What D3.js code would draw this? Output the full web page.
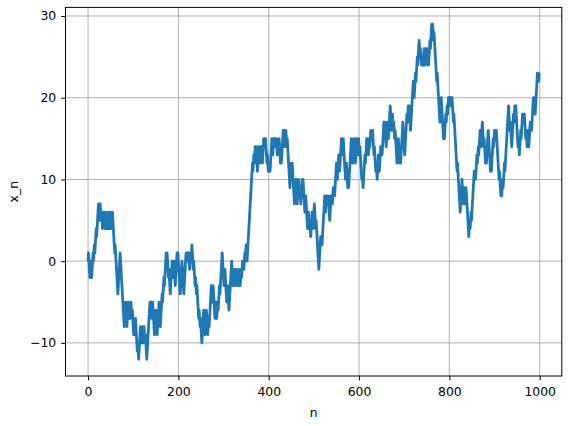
<!DOCTYPE html>
<html lang="en">

<head>
	<meta charset="utf-8">
	<script src="https://d3js.org/d3.v7.min.js"></script>
	<style type="text/css">
		body {
			margin: 0;
			background: #fff;
		}

		text {
			font-family: "DejaVu Sans", sans-serif;
		}
	</style>
</head>

<body>
	<svg id="chart" width="571" height="426"></svg>
	<script type="text/javascript">
		// random walk, one char per step: u = +1, d = -1 (spaces are ignored)
		var startValue = 0;
		var steps = [
			// n 0 - 80
			"u ddd uu dd uuu d uu d uuu d uuuu dd uu dd u dd uu d u dd uu dd u d uu dd uu dd uu ddd dd u dddddd uuuuu d dddddddd",
			// n 80 - 175
			"uuu ddd uuu dd u d uud dud ddud uud dddudd uuuu dd uu dd uu dduddd uuuuuuu dudd uu dddd uuu ddd uuuu ddd uuuu d uuu d uuu udu",
			// n 175 - 364
			"ddduddd uuuu dd uu ddd uuuu dudd ddd uuuu dddd uuuu ud udu dud du uduu ddd u dd du dd u dddd u dd u ddd uuuu ddd uuu ddd uu d uuuuu dd uu dddd uu dd uu d uuu d uuuuu dddd uu dddd uu ddd uuuuuu ddd uu dd uu dud dud uu dd uuduu dud uuduu dd uuuu uuuuuuuu",
			// n 364 - 501
			"d uu du udu ddd uuu dd uudu dd uuu dud u dddudd udud uuuu dd uu dud udu ddud uu dd dud uuu udu dd uu ddud dd ddd uuu dudd ddd uuu ddd uuu ddudd uuu dudddd uud ddd uu ddudd uuu dd uuu",
			// n 501 - 640
			"ddd u dddddd uuuu dudu uuuuu dd uu dudu ddd uuu dud uudu du uuu dd uuu dd uuuu dd uu dd ddd uu dd dud uuuuuu ddd uuu ddd uu u dd uu dd ud ddd ud du uuu du uu dud du uduudu dud dd u dddudd",
			// n 640 - 800
			"uuu dd uuu du d uuu udu ddd uuu dd uuuu ddd uu dd ud dud ddd uuu ddd ud uuuuu dddd uuu uudu udu ddd uuuuuu dd uuu du uuduuu ddud dud uduu dd uu dudd ud uu udu uudu dd u dddd dd u dddddd uuu ddd ddud uuu du udu udu",
			// n 800 - 999
			"dudu dud ddud dddd ddud ddddd uuuu ddd uu dd uu dddddd uu d uu d uuuuuu du d uuu du u du uu dd uuu ddd u ddd u du uu u ddd dd ud uu uuduu d udu dddd dd u dd d u d uu d uuu du uu uuuuu dd du dd du uuu d uu d u ddd ddud du uuduu udu du ddd ud du ud du uud udu uu udu dd uuu uu d u d u"
		];
		var xTicks = [0, 200, 400, 600, 800, 1000];
		var yTicks = [-10, 0, 10, 20, 30];
		var xLabel = "n";
		var yLabel = "x_n";

		var stepValues = steps.join("").replace(/\s/g, "").split("").map(function (c) {
			return c == "u" ? 1 : -1;
		});
		var values = [startValue].concat(Array.from(d3.cumsum(stepValues), function (v) { return v + startValue; }));

		var width = 571;
		var height = 426;
		// axes box in pixels ("top" is taken by window.top)
		var mLeft = 65.5, mRight = 561.8, mTop = 7.4, mBottom = 376;

		// matplotlib style 5% margins
		var n = values.length - 1;
		var xPad = n * 0.05;
		var yMin = d3.min(values), yMax = d3.max(values);
		var yPad = (yMax - yMin) * 0.05;

		var x = d3.scaleLinear()
			.domain([-xPad, n + xPad])
			.range([mLeft, mRight]);

		var y = d3.scaleLinear()
			.domain([yMin - yPad, yMax + yPad])
			.range([mBottom, mTop]);

		var svg = d3.select("#chart");

		svg.append("rect")
			.attr("width", width)
			.attr("height", height)
			.style("fill", "#fff");

		// grid
		svg.append("g")
			.selectAll("line")
			.data(xTicks)
			.enter()
			.append("line")
			.attr("x1", d => x(d))
			.attr("x2", d => x(d))
			.attr("y1", mTop)
			.attr("y2", mBottom)
			.style("stroke", "#b0b0b0")
			.style("stroke-width", 1);

		svg.append("g")
			.selectAll("line")
			.data(yTicks)
			.enter()
			.append("line")
			.attr("x1", mLeft)
			.attr("x2", mRight)
			.attr("y1", d => y(d))
			.attr("y2", d => y(d))
			.style("stroke", "#b0b0b0")
			.style("stroke-width", 1);

		// the walk
		var line = d3.line()
			.x((d, i) => x(i))
			.y(d => y(d));

		svg.append("path")
			.datum(values)
			.attr("d", line)
			.style("fill", "none")
			.style("stroke", "#1f77b4")
			.style("stroke-width", 2.8)
			.style("stroke-linejoin", "round");

		// axes
		var xAxis = svg.append("g")
			.attr("transform", "translate(0," + mBottom + ")")
			.call(d3.axisBottom(x).tickValues(xTicks).tickSize(4.3).tickPadding(7.2).tickFormat(d3.format("d")));

		var yAxis = svg.append("g")
			.attr("transform", "translate(" + mLeft + ",0)")
			.call(d3.axisLeft(y).tickValues(yTicks).tickSize(4.3).tickPadding(5).tickFormat(d3.format("d")));

		[xAxis, yAxis].forEach(function (g) {
			g.select(".domain").remove();
			g.selectAll(".tick line").style("stroke", "#000").style("stroke-width", 1);
			g.selectAll(".tick text")
				.style("font-family", "DejaVu Sans")
				.style("font-size", "12.4px")
				.style("fill", "#000");
		});

		// frame
		svg.append("rect")
			.attr("x", mLeft)
			.attr("y", mTop)
			.attr("width", mRight - mLeft)
			.attr("height", mBottom - mTop)
			.style("fill", "none")
			.style("stroke", "#000")
			.style("stroke-width", 1);

		svg.append("text")
			.attr("x", (mLeft + mRight) / 2)
			.attr("y", 417)
			.attr("text-anchor", "middle")
			.style("font-size", "12.4px")
			.text(xLabel);

		svg.append("text")
			.attr("transform", "translate(18," + (mTop + mBottom) / 2 + ") rotate(-90)")
			.attr("text-anchor", "middle")
			.style("font-size", "12.4px")
			.text(yLabel);
	</script>

</body>

</html>
